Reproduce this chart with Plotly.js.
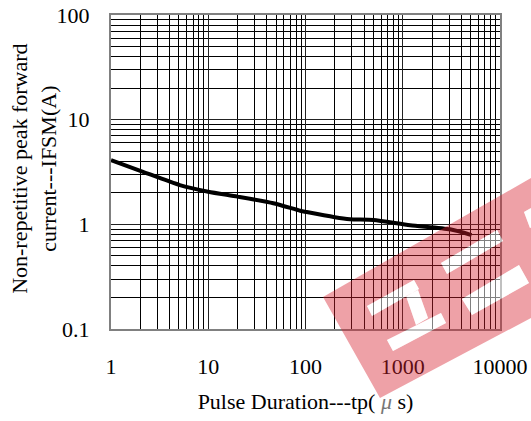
<!DOCTYPE html>
<html>
<head>
<meta charset="utf-8">
<script src="https://cdn.plot.ly/plotly-3.0.1.min.js"></script>
<style>
html,body{margin:0;padding:0;background:#fff;}
#chart{width:531px;height:421px;}
</style>
</head>
<body>
<div id="chart"></div>
<script>
// Data
const pulseDuration = [1, 2.1, 5.1, 10, 20, 46.7, 88, 103, 200, 287, 500, 1190, 3060, 5100];
const ifsm = [4.1, 3.19, 2.37, 2.05, 1.84, 1.59, 1.35, 1.31, 1.17, 1.12, 1.1, 0.98, 0.896, 0.79];
const xTickVals = [1, 10, 100, 1000, 10000];
const xTickText = ['1', '10', '100', '1000', '10000'];
const yTickVals = [0.1, 1, 10, 100];
const yTickText = ['0.1', '1', '10', '100'];

// Watermark geometry (pixel coords of the 531x421 canvas)
const PL = 111, PR = 500, PT = 15, PB = 329;
function pp(pts) {
  return pts.map((p, i) => (i ? 'L' : 'M') + ((p[0] - PL) / (PR - PL)).toFixed(4) + ',' + ((PB - p[1]) / (PB - PT)).toFixed(4)).join(' ') + ' Z';
}
const band = [[323, 297], [580, 150], [580, 292], [380, 398]];
const holes = [
  [[441, 263], [447, 274], [503, 241], [497, 230]],
  [[462, 299], [472, 315], [529, 283], [519, 265]],
  [[524, 212], [530, 228], [580, 200], [574, 184]],
  [[367, 306], [372, 316], [419, 289], [414, 280]],
  [[406, 296], [418, 290], [428, 318], [416, 325]],
  [[387, 340], [393, 351], [446, 323], [441, 313]]
];
const shapes = [{
  type: 'path', xref: 'paper', yref: 'paper', layer: 'above',
  path: pp(band) + ' ' + holes.map(pp).join(' '),
  fillrule: 'evenodd', fillcolor: 'rgba(215,30,45,0.42)', line: {width: 0}
}].concat(holes.map(h => ({
  type: 'path', xref: 'paper', yref: 'paper', layer: 'above',
  path: pp(h), fillcolor: 'rgba(255,255,255,0.5)', line: {width: 0}
})));

const fontFam = '"Liberation Serif", "Times New Roman", serif';

const trace = {
  x: pulseDuration, y: ifsm, type: 'scatter', mode: 'lines',
  line: {color: '#000', width: 4, shape: 'spline', smoothing: 0.6},
  hoverinfo: 'skip'
};

const layout = {
  width: 531, height: 421,
  margin: {l: PL, r: 531 - PR, t: PT, b: 421 - PB},
  paper_bgcolor: '#fff', plot_bgcolor: '#fff',
  showlegend: false,
  font: {family: fontFam, color: '#000'},
  xaxis: {
    type: 'log', range: [0, 4],
    tickvals: xTickVals, ticktext: xTickText,
    tickfont: {size: 22, family: fontFam},
    ticks: 'outside', ticklen: 17, tickcolor: 'rgba(0,0,0,0)',
    showgrid: true, gridcolor: '#222', gridwidth: 1,
    minor: {dtick: 'D1', showgrid: true, gridcolor: '#000', gridwidth: 1, ticks: ''},
    showline: true, linecolor: '#808080', linewidth: 2, mirror: true,
    zeroline: false,
    title: {text: 'Pulse Duration---tp( <span style="color:#777;font-style:italic">μ</span> s)', font: {size: 22, family: fontFam}, standoff: 15}
  },
  yaxis: {
    type: 'log', range: [-1, 2],
    tickvals: yTickVals, ticktext: yTickText,
    tickfont: {size: 22, family: fontFam},
    ticks: 'outside', ticklen: 15, tickcolor: 'rgba(0,0,0,0)',
    showgrid: true, gridcolor: '#222', gridwidth: 1,
    minor: {dtick: 'D1', showgrid: true, gridcolor: '#000', gridwidth: 1, ticks: ''},
    showline: true, linecolor: '#808080', linewidth: 2, mirror: true,
    zeroline: false,
    title: {text: ''}
  },
  annotations: [{
    xref: 'paper', yref: 'paper', x: (34 - PL) / (PR - PL), y: 0.51,
    xanchor: 'center', yanchor: 'middle', textangle: -90, showarrow: false,
    text: 'Non-repetitive peak forward<br>current---IFSM(A)',
    font: {size: 22, family: fontFam, color: '#000'}
  }],
  shapes: shapes
};

Plotly.newPlot('chart', [trace], layout, {staticPlot: true, displayModeBar: false});
</script>
</body>
</html>
